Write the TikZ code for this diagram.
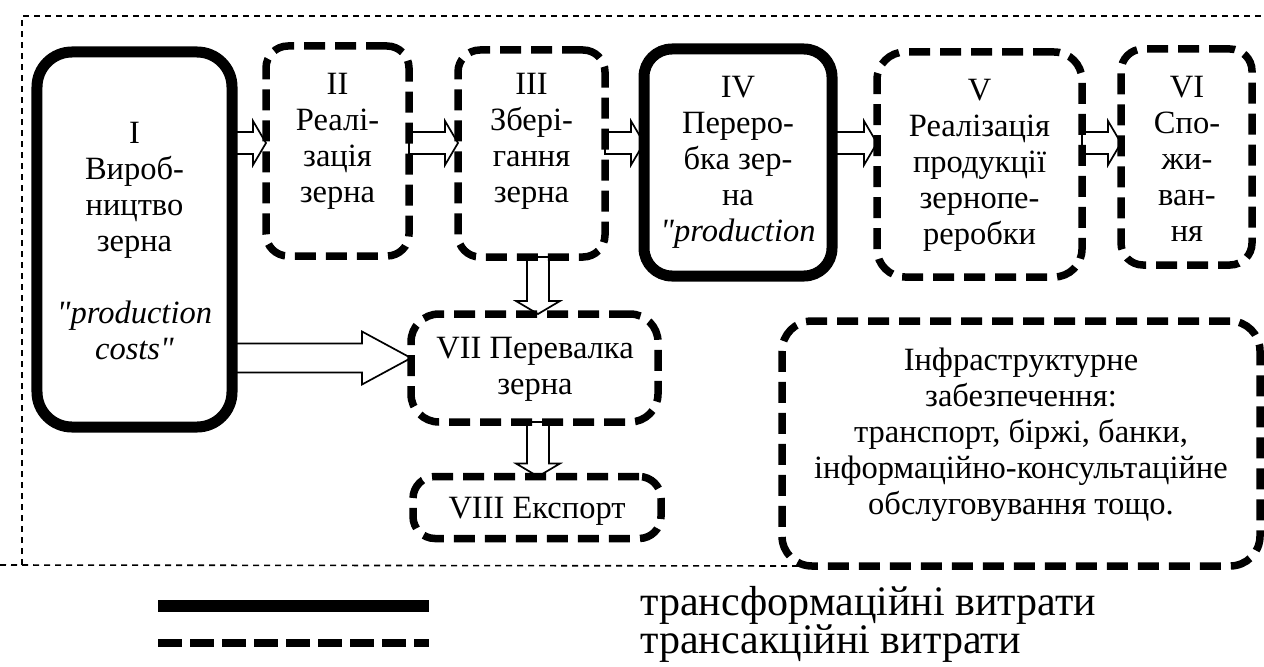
\documentclass[tikz,border=0pt]{standalone}
\usepackage{fontspec}
\setmainfont{Liberation Serif}[Ligatures=TeXOff]
\usetikzlibrary{calc}
\pgfdeclarelayer{background}
\pgfsetlayers{background,main}

\newcommand\stagefont{\fontsize{16.25bp}{18bp}\selectfont}
\newcommand\legfont{\fontsize{21bp}{19bp}\selectfont}

% horizontal block arrow: start, tip, shaft half-width, head half-width, head length
\newcommand\arrowH[5]{\draw[blk] ($(#1)+(0,#3)$) -- ($(#2)+(-#5,#3)$) -- ($(#2)+(-#5,#4)$) -- (#2)
  -- ($(#2)+(-#5,-#4)$) -- ($(#2)+(-#5,-#3)$) -- ($(#1)+(0,-#3)$) -- cycle;}
% vertical (downward) block arrow
\newcommand\arrowV[5]{\draw[blk] ($(#1)+(#3,0)$) -- ($(#2)+(#3,-#5)$) -- ($(#2)+(#4,-#5)$) -- (#2)
  -- ($(#2)+(-#4,-#5)$) -- ($(#2)+(-#3,-#5)$) -- ($(#1)+(-#3,0)$) -- cycle;}

\tikzset{
  stage/.style={draw, inner sep=0pt, outer sep=0pt},
  solidbox/.style={stage, line width=5.5bp},
  dashbox/.style={stage, line width=3.75bp, dash pattern=on 10.5bp off 5bp},
  txt/.style={align=center, inner sep=0pt, font=\stagefont},
  blk/.style={draw, fill=white, line width=0.85bp, line join=miter},
  frame/.style={line width=0.8bp, dash pattern=on 3bp off 2.5bp},
  legtxt/.style={anchor=base west, inner sep=0pt, font=\legfont},
}

\begin{document}
\begin{tikzpicture}[x=0.5bp, y=-0.5bp]
\useasboundingbox (0,0) rectangle (1264,666);

% stages of the grain chain
\node[solidbox, rounded corners=17.5bp, minimum width=97.5bp, minimum height=187.5bp] (n1) at (134.5,239.5) {};
\node[dashbox, rounded corners=11bp, minimum width=71.5bp, minimum height=105bp] (n2) at (337.5,151) {};
\node[dashbox, rounded corners=11bp, minimum width=73.5bp, minimum height=103.5bp] (n3) at (531.5,153.5) {};
\node[solidbox, rounded corners=14bp, minimum width=94bp, minimum height=113.5bp] (n4) at (738,162.5) {};
\node[dashbox, rounded corners=14bp, minimum width=102.5bp, minimum height=112.5bp] (n5) at (979.5,164.5) {};
\node[dashbox, rounded corners=11bp, minimum width=65.5bp, minimum height=108bp] (n6) at (1186.5,157) {};
\node[dashbox, rounded corners=14bp, minimum width=123.5bp, minimum height=54bp] (n7) at (534.5,368) {};
\node[dashbox, rounded corners=11bp, minimum width=124bp, minimum height=31bp] (n8) at (537,507.5) {};
\node[dashbox, rounded corners=15bp, minimum width=239bp, minimum height=122.5bp] (n9) at (1021,443.5) {};

% texts of the stages
\node[txt] (t1) at (134.5,241) {I\\Вироб-\\ництво\\зерна\\[18bp]\textit{"production}\\\textit{costs"}};
\node[txt] (t2) at (337.5,141) {II\\Реалі-\\зація\\зерна};
\node[txt] (t3) at (531.5,141) {III\\Збері-\\гання\\зерна};
\node[txt] (t4) at (738,162) {IV\\Переро-\\бка зер-\\на\\\textit{"production}};
\node[txt] (t5) at (979.5,165) {V\\Реалізація\\продукції\\зернопе-\\реробки};
\node[txt] (t6) at (1187,159) {VI\\Спо-\\жи-\\ван-\\ня};
\node[txt] (t7) at (535,369) {VII Перевалка\\зерна};
\node[txt] (t8) at (537,511) {VIII Експорт};
\node[txt] (t9) at (1021,435) {Інфраструктурне\\забезпечення:\\транспорт, біржі, банки,\\інформаційно-консультаційне\\обслуговування тощо.};

% reference lines for the arrows
\coordinate (row) at (0,143);
\coordinate (brow) at (0,358);
\coordinate (col) at (538,0);

\begin{pgfonlayer}{background}
  % dashed frame round the chain
  \coordinate (fa) at (0,565);
  \coordinate (fb) at (22,565);
  \coordinate (fc) at (22,16);
  \coordinate (fd) at (1264,16);
  \coordinate (fe) at ($(n9.south west)+(22,0)$);
  \draw[frame] (fa) -- (fe);
  \draw[frame] (fb) -- (fc) -- (fd);

  % block arrows between the stages
  \arrowH{n1.east |- row}{n2.west |- row}{11}{22}{13}
  \arrowH{n2.east |- row}{n3.west |- row}{11}{22}{13}
  \arrowH{n3.east |- row}{n4.west |- row}{11}{22}{13}
  \arrowH{n4.east |- row}{n5.west |- row}{11}{22}{13}
  \arrowH{n5.east |- row}{n6.west |- row}{11}{22}{13}
  \arrowH{n1.east |- brow}{n7.west |- brow}{14.5}{26.5}{49}
  \arrowV{col |- n3.south}{col |- n7.north}{11}{22}{13}
  \arrowV{col |- n7.south}{col |- n8.north}{11}{22}{13}
\end{pgfonlayer}

% legend
\coordinate (la) at (158,606);
\coordinate (lb) at (429,606);
\coordinate (lc) at (158,643);
\coordinate (ld) at (429,643);
\draw[line width=6bp] (la) -- (lb);
\draw[line width=3.75bp, dash pattern=on 12bp off 4bp] (lc) -- (ld);
\node[legtxt] (l1) at (640,615) {трансформаційні витрати};
\node[legtxt] (l2) at (640,653) {трансакційні витрати};
\end{tikzpicture}
\end{document}
